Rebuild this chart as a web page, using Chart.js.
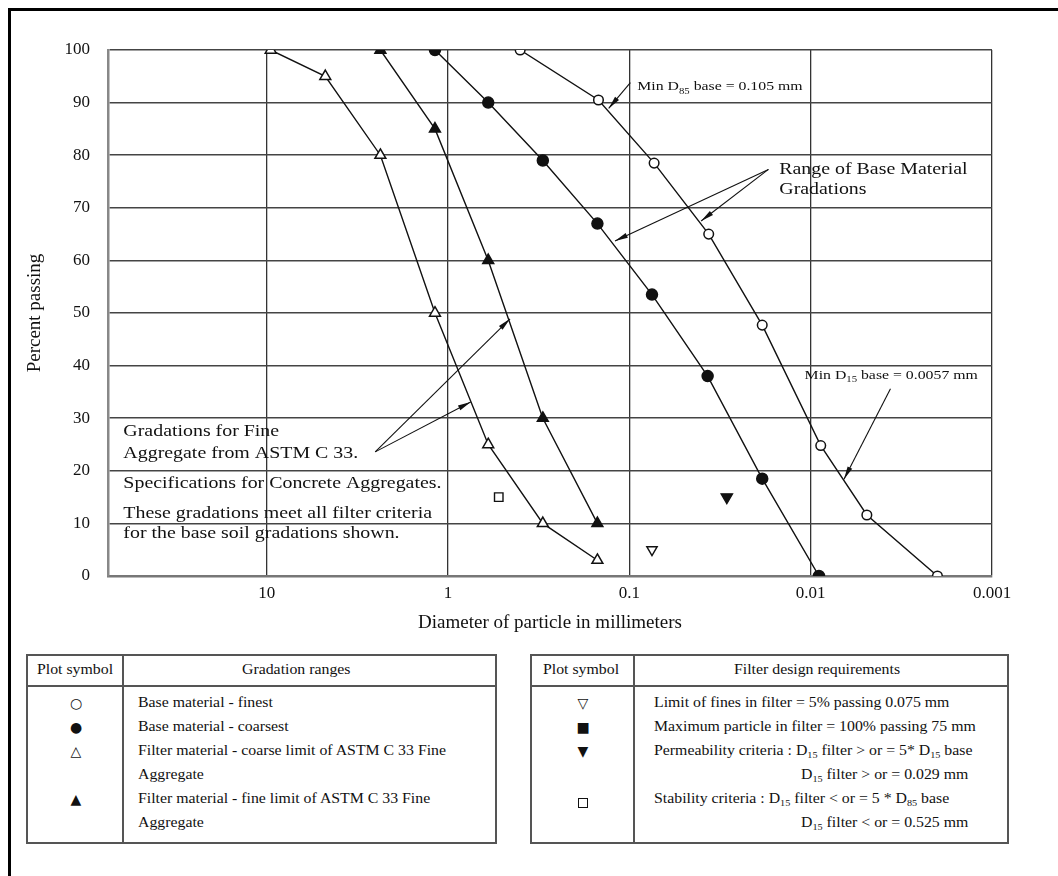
<!DOCTYPE html>
<html>
<head>
<meta charset="utf-8">
<script src="https://cdn.jsdelivr.net/npm/chart.js@4.4.1/dist/chart.umd.min.js"></script>
<style>
  html, body { margin: 0; padding: 0; background: #fff; }
  body { width: 1058px; height: 876px; position: relative; overflow: hidden;
         font-family: "Liberation Serif", "Times New Roman", serif; color: #111; }
  #frame { position: absolute; left: 8px; top: 8px; width: 1100px; height: 900px;
           border-left: 3px solid #000; border-top: 3px solid #000; }
  #chartBox { position: absolute; left: 0; top: 0; width: 1058px; height: 640px; }
  .tbl { position: absolute; top: 654px; height: 190px; box-sizing: border-box;
         border: 2px solid #555; }
  .head { position: absolute; left: 0; right: 0; top: 0; height: 29px; border-bottom: 2px solid #555; }
  .divider { position: absolute; top: 0; bottom: 0; width: 0; border-left: 2px solid #555; }
  .cell { position: absolute; height: 20px; line-height: 20px; font-size: 14px; white-space: nowrap;
          transform: scaleX(1.13); transform-origin: left center; }
  .sym { position: absolute; width: 20px; margin-left: -10px; height: 20px; line-height: 20px;
         text-align: center; font-family: "DejaVu Sans", sans-serif; font-size: 14px; color: #111; }
  .box { position: absolute; width: 10px; height: 10px; margin-left: -5px; box-sizing: border-box;
         border: 1.6px solid #111; background: #fff; }
  sub { font-size: 9px; vertical-align: -3px; line-height: 0; }
</style>
</head>
<body>
<div id="frame"></div>
<div id="chartBox"><canvas id="gradChart"></canvas></div>

<!-- left legend table -->
<div class="tbl" style="left:26px; width:471px;">
  <div class="head"></div>
  <div class="divider" style="left:94px;"></div>
  <div class="cell" style="left:9px; top:4px;">Plot symbol</div>
  <div class="cell" style="left:214px; top:4px;">Gradation ranges</div>
  <div class="sym" style="left:48px; top:37px;">&#x25CB;&#xFE0E;</div>
  <div class="sym" style="left:48px; top:61px;">&#x25CF;&#xFE0E;</div>
  <div class="sym" style="left:48px; top:85px;">&#x25B3;&#xFE0E;</div>
  <div class="sym" style="left:48px; top:133px;">&#x25B2;&#xFE0E;</div>
  <div class="cell" style="left:110px; top:37px;">Base material - finest</div>
  <div class="cell" style="left:110px; top:61px;">Base material - coarsest</div>
  <div class="cell" style="left:110px; top:85px;">Filter material - coarse limit of ASTM C 33 Fine</div>
  <div class="cell" style="left:110px; top:109px;">Aggregate</div>
  <div class="cell" style="left:110px; top:133px;">Filter material - fine limit of ASTM C 33 Fine</div>
  <div class="cell" style="left:110px; top:157px;">Aggregate</div>
</div>

<!-- right legend table -->
<div class="tbl" style="left:530px; width:479px;">
  <div class="head"></div>
  <div class="divider" style="left:101px;"></div>
  <div class="cell" style="left:11px; top:4px;">Plot symbol</div>
  <div class="cell" style="left:202px; top:4px;">Filter design requirements</div>
  <div class="sym" style="left:51px; top:37px;">&#x25BD;&#xFE0E;</div>
  <div class="sym" style="left:51px; top:61px;">&#x25A0;&#xFE0E;</div>
  <div class="sym" style="left:51px; top:85px;">&#x25BC;&#xFE0E;</div>
  <div class="box" style="left:51px; top:142px;"></div>
  <div class="cell" style="left:122px; top:37px;">Limit of fines in filter = 5% passing 0.075 mm</div>
  <div class="cell" style="left:122px; top:61px;">Maximum particle in filter = 100% passing 75 mm</div>
  <div class="cell" style="left:122px; top:85px;">Permeability criteria : D<sub>15</sub> filter &gt; or = 5* D<sub>15</sub> base</div>
  <div class="cell" style="left:269px; top:109px;">D<sub>15</sub> filter &gt; or = 0.029 mm</div>
  <div class="cell" style="left:122px; top:133px;">Stability criteria : D<sub>15</sub> filter &lt; or = 5 * D<sub>85</sub> base</div>
  <div class="cell" style="left:269px; top:157px;">D<sub>15</sub> filter &lt; or = 0.525 mm</div>
</div>

<script>
// Particle sizes (mm) and percent passing
const sizeBaseFinest = [0.4, 0.148, 0.073, 0.0365, 0.0185, 0.0088, 0.0049, 0.002];
const passBaseFinest = [100, 90.5, 78.5, 65, 47.7, 24.8, 11.6, 0];

const sizeBaseCoarsest = [1.18, 0.6, 0.3, 0.15, 0.075, 0.037, 0.0185, 0.009];
const passBaseCoarsest = [100, 90, 79, 67, 53.5, 38, 18.5, 0];

const sizeFilterCoarse = [9.5, 4.75, 2.36, 1.18, 0.6, 0.3, 0.15];
const passFilterCoarse = [100, 95, 80, 50, 25, 10, 3];

const sizeFilterFine = [2.36, 1.18, 0.6, 0.3, 0.15];
const passFilterFine = [100, 85, 60, 30, 10];

// filter design requirement points
const sizeFinesLimit = [0.075];
const passFinesLimit = [5];
const sizePermeability = [0.029];
const passPermeability = [15];
const sizeStability = [0.525];
const passStability = [15];

// axes
const xTickValues = [10, 1, 0.1, 0.01, 0.001];
const xTickLabels = ['10', '1', '0.1', '0.01', '0.001'];
const yTickValues = [0, 10, 20, 30, 40, 50, 60, 70, 80, 90, 100];
const xMin = 0.001;
const xMax = 75;

// callouts, anchored in data units (mm, % passing)
const calloutTexts = [
    { x: 0.0904, y: 93.0, size: 13.5, parts: [['Min D'], ['85', 1], [' base = 0.105 mm']] },
    { x: 0.0149, y: 77.3, size: 17, parts: [['Range of Base Material']] },
    { x: 0.0149, y: 73.5, size: 17, parts: [['Gradations']] },
    { x: 0.0108, y: 38.1, size: 13.5, parts: [['Min D'], ['15', 1], [' base = 0.0057 mm']] },
    { x: 61.7, y: 27.4, size: 17, parts: [['Gradations for Fine']] },
    { x: 61.7, y: 23.3, size: 17, parts: [['Aggregate from ASTM C 33.']] },
    { x: 61.7, y: 17.6, size: 17, parts: [['Specifications for Concrete Aggregates.']] },
    { x: 61.7, y: 11.9, size: 17, parts: [['These gradations meet all filter criteria']] },
    { x: 61.7, y: 8.1, size: 17, parts: [['for the base soil gradations shown.']] }
];
const calloutArrows = [
    { from: [0.0987, 93.8], to: [0.13, 88.9] },
    { from: [0.0171, 77.3], to: [0.12, 63.7] },
    { from: [0.0171, 77.3], to: [0.0402, 67.5] },
    { from: [0.00363, 35.6], to: [0.00655, 18.4] },
    { from: [2.52, 23.6], to: [0.455, 48.9] },
    { from: [2.52, 23.6], to: [0.75, 33.1] }
];

const serif = '"Liberation Serif", "Times New Roman", serif';
const ink = '#111';
const textStretch = 1.17;

function pts(xs, ys) {
    return xs.map((x, i) => ({ x: x, y: ys[i] }));
}

function drawRich(ctx, x, y, parts, size) {
    ctx.save();
    ctx.translate(x, y);
    ctx.scale(textStretch, 1);
    ctx.textBaseline = 'middle';
    ctx.textAlign = 'left';
    ctx.fillStyle = ink;
    let cx = 0;
    parts.forEach(p => {
        const isSub = p[1];
        ctx.font = (isSub ? size * 0.68 : size) + 'px ' + serif;
        ctx.fillText(p[0], cx, isSub ? size * 0.32 : 0);
        cx += ctx.measureText(p[0]).width;
    });
    ctx.restore();
}

function drawArrow(ctx, x0, y0, x1, y1) {
    const ang = Math.atan2(y1 - y0, x1 - x0);
    const len = 13, half = 2.6;
    ctx.save();
    ctx.strokeStyle = ink;
    ctx.fillStyle = ink;
    ctx.lineWidth = 1.1;
    ctx.beginPath();
    ctx.moveTo(x0, y0);
    ctx.lineTo(x1, y1);
    ctx.stroke();
    ctx.beginPath();
    ctx.moveTo(x1, y1);
    ctx.lineTo(x1 - len * Math.cos(ang) + half * Math.sin(ang), y1 - len * Math.sin(ang) - half * Math.cos(ang));
    ctx.lineTo(x1 - len * Math.cos(ang) - half * Math.sin(ang), y1 - len * Math.sin(ang) + half * Math.cos(ang));
    ctx.closePath();
    ctx.fill();
    ctx.restore();
}

const calloutPlugin = {
    id: 'callouts',
    afterDatasetsDraw(chart) {
        const { ctx, scales: { x, y } } = chart;
        calloutArrows.forEach(a => {
            drawArrow(ctx,
                x.getPixelForValue(a.from[0]), y.getPixelForValue(a.from[1]),
                x.getPixelForValue(a.to[0]), y.getPixelForValue(a.to[1]));
        });
        calloutTexts.forEach(t => {
            drawRich(ctx, x.getPixelForValue(t.x), y.getPixelForValue(t.y), t.parts, t.size);
        });
    }
};

function gradationLine(label, xs, ys, style, filled, radius) {
    return {
        label: label,
        data: pts(xs, ys),
        showLine: true,
        borderColor: ink,
        borderWidth: 1.4,
        pointStyle: style,
        pointRadius: radius,
        pointBackgroundColor: filled ? ink : '#fff',
        pointBorderColor: ink,
        pointBorderWidth: 1.5
    };
}

function criteriaPoint(label, xs, ys, style, filled, rotation, radius) {
    return {
        label: label,
        data: pts(xs, ys),
        showLine: false,
        pointStyle: style,
        pointRotation: rotation,
        pointRadius: radius,
        pointBackgroundColor: filled ? ink : '#fff',
        pointBorderColor: ink,
        pointBorderWidth: 1.4
    };
}

document.addEventListener('DOMContentLoaded', function() {
    const ctx = document.getElementById('gradChart');

    new Chart(ctx, {
        type: 'scatter',
        data: {
            datasets: [
                gradationLine('Base material - finest', sizeBaseFinest, passBaseFinest, 'circle', false, 4.8),
                gradationLine('Base material - coarsest', sizeBaseCoarsest, passBaseCoarsest, 'circle', true, 5.5),
                gradationLine('Filter material - coarse limit', sizeFilterCoarse, passFilterCoarse, 'triangle', false, 6.3),
                gradationLine('Filter material - fine limit', sizeFilterFine, passFilterFine, 'triangle', true, 6.3),
                criteriaPoint('Limit of fines', sizeFinesLimit, passFinesLimit, 'triangle', false, 180, 6),
                criteriaPoint('Permeability criteria', sizePermeability, passPermeability, 'triangle', true, 180, 6.5),
                criteriaPoint('Stability criteria', sizeStability, passStability, 'rect', false, 0, 6)
            ]
        },
        options: {
            responsive: true,
            maintainAspectRatio: false,
            animation: false,
            layout: {
                padding: { top: 50, right: 66, left: 0, bottom: 0 }
            },
            plugins: {
                legend: { display: false },
                tooltip: { enabled: false }
            },
            scales: {
                x: {
                    type: 'logarithmic',
                    reverse: true,
                    min: xMin,
                    max: xMax,
                    afterBuildTicks: scale => {
                        scale.ticks = xTickValues.map(v => ({ value: v }));
                    },
                    afterFit: scale => { scale.height = 64; },
                    grid: { color: '#333', lineWidth: 1.3, drawTicks: false },
                    border: { color: '#777', width: 2.5 },
                    ticks: {
                        autoSkip: false,
                        maxRotation: 0,
                        padding: 7,
                        color: ink,
                        font: { family: serif, size: 17 },
                        callback: value => xTickLabels[xTickValues.indexOf(value)]
                    },
                    title: {
                        display: true,
                        text: 'Diameter of particle in millimeters',
                        color: ink,
                        font: { family: serif, size: 19 },
                        padding: { top: 0, bottom: 6 }
                    }
                },
                y: {
                    min: 0,
                    max: 100,
                    afterBuildTicks: scale => {
                        scale.ticks = yTickValues.map(v => ({ value: v }));
                    },
                    afterFit: scale => { scale.width = 108; },
                    grid: { color: '#444', lineWidth: 1.5, drawTicks: false },
                    border: { color: '#888', width: 2.5 },
                    ticks: {
                        padding: 18,
                        color: ink,
                        font: { family: serif, size: 17 }
                    },
                    title: {
                        display: true,
                        text: 'Percent passing',
                        color: ink,
                        font: { family: serif, size: 19 },
                        padding: { top: 24, bottom: 0 }
                    }
                }
            }
        },
        plugins: [calloutPlugin]
    });
});
</script>
</body>
</html>
